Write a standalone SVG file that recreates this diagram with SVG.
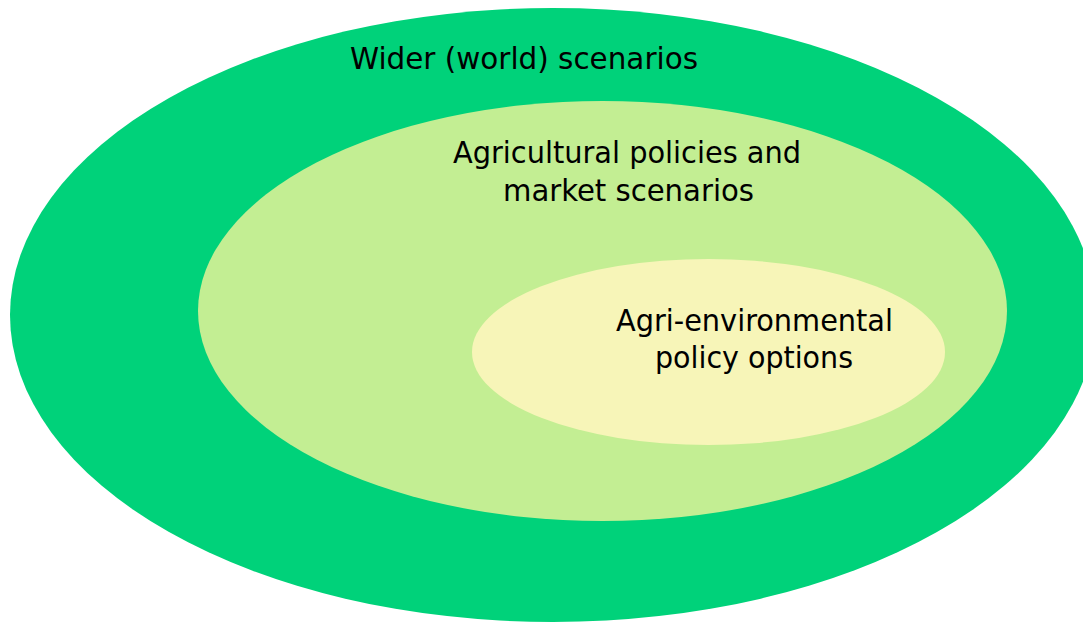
<svg xmlns="http://www.w3.org/2000/svg" width="1083" height="623" viewBox="0 0 1083 623">
<style>
.lbl{font-family:"DejaVu Sans Condensed","DejaVu Sans",sans-serif;font-size:31px;fill:#000;text-anchor:middle}
</style>
<rect width="1083" height="623" fill="#fff"/>
<g id="outer">
<ellipse cx="553" cy="315" rx="543" ry="307" fill="#00D27A"/>
<text class="lbl" x="524" y="69" textLength="348" lengthAdjust="spacingAndGlyphs">Wider (world) scenarios</text>
</g>
<g id="middle">
<ellipse cx="602.5" cy="311" rx="404.5" ry="210" fill="#C3EE93"/>
<text class="lbl" x="627" y="163" textLength="348" lengthAdjust="spacingAndGlyphs">Agricultural policies and</text>
<text class="lbl" x="628.5" y="201" textLength="251" lengthAdjust="spacingAndGlyphs">market scenarios</text>
</g>
<g id="inner">
<ellipse cx="708.5" cy="352" rx="236.5" ry="93" fill="#F7F5B8"/>
<text class="lbl" x="754.5" y="331" textLength="277" lengthAdjust="spacingAndGlyphs">Agri-environmental</text>
<text class="lbl" x="754" y="368" textLength="198" lengthAdjust="spacingAndGlyphs">policy options</text>
</g>
<g id="connectors"/>
</svg>
